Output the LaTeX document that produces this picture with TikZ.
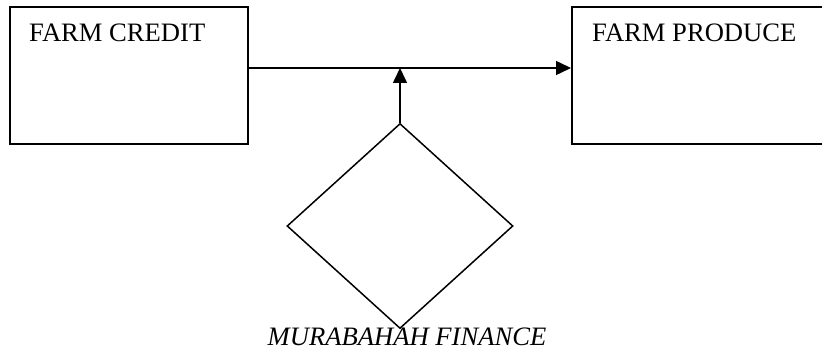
\documentclass[tikz,border=0pt]{standalone}
\usepackage{fontspec}
\setmainfont{Liberation Serif}
\usetikzlibrary{arrows.meta,shapes.geometric}
\begin{document}
\begin{tikzpicture}[x=1pt,y=-1pt,
  blockbox/.style={draw,line width=1.8pt,rectangle,inner sep=0pt,anchor=north west},
  boxtext/.style={font=\fontsize{26.6}{30}\selectfont,inner sep=0pt,anchor=base west},
  conn/.style={line width=1.5pt,-{Triangle[length=15pt,width=14pt]}}]
\useasboundingbox (0,0) rectangle (822,350);
\clip (0,0) rectangle (822,350);
% the two blocks (the right one runs off the page edge)
\node[blockbox,minimum width=238pt,minimum height=137pt] (lbox) at (9,6) {};
\node[blockbox,minimum width=280pt,minimum height=137pt] (rbox) at (571,6) {};
\node[boxtext] (lname) at (29,42) {FARM CREDIT};
\node[boxtext] (rname) at (592,42) {FARM PRODUCE};
% diamond and its caption
\node[draw,diamond,line width=1.5pt,minimum width=226pt,minimum height=205pt,inner sep=0pt] (dia) at (400,226) {};
\node[font=\itshape\fontsize{26.6}{30}\selectfont,inner sep=0pt,anchor=base] (mname) at (407,345) {MURABAHAH FINANCE};
% connectors
\coordinate (j) at (dia.north |- 0,68);
\draw[conn] (lbox.east |- j) -- (rbox.west |- j);
\draw[conn] (dia.north) -- (j);
\end{tikzpicture}
\end{document}
